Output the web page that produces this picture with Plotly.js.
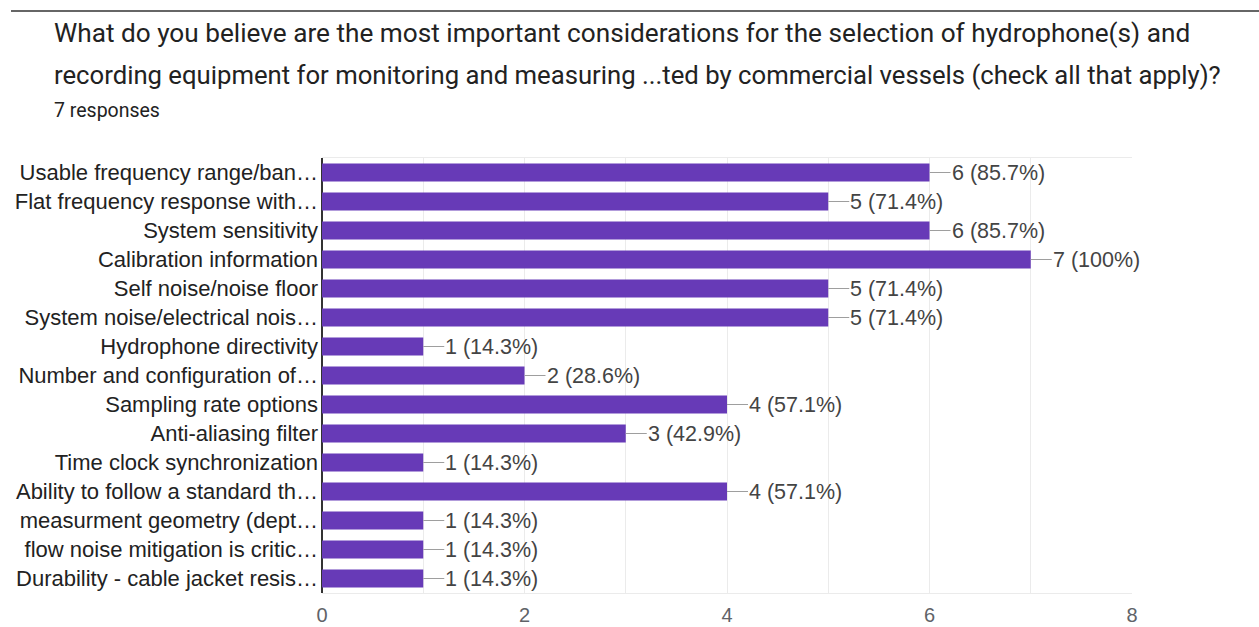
<!DOCTYPE html>
<html><head><meta charset="utf-8">
<script src="https://cdn.plot.ly/plotly-3.0.1.min.js"></script>
<style>html,body{margin:0;padding:0;background:#fff;}#chart{width:1259px;height:627px;}</style>
</head><body><div id="chart"></div>
<script>
const categories = [
  "Usable frequency range/ban…",
  "Flat frequency response with…",
  "System sensitivity",
  "Calibration information",
  "Self noise/noise floor",
  "System noise/electrical nois…",
  "Hydrophone directivity",
  "Number and configuration of…",
  "Sampling rate options",
  "Anti-aliasing filter",
  "Time clock synchronization",
  "Ability to follow a standard th…",
  "measurment geometry (dept…",
  "flow noise mitigation is critic…",
  "Durability - cable jacket resis…"
];
const counts = [6, 5, 6, 7, 5, 5, 1, 2, 4, 3, 1, 4, 1, 1, 1];
const percents = ["85.7%", "71.4%", "85.7%", "100%", "71.4%", "71.4%", "14.3%", "28.6%", "57.1%", "42.9%", "14.3%", "57.1%", "14.3%", "14.3%", "14.3%"];
const xTicks = [0, 2, 4, 6, 8];
const titleLine1 = "What do you believe are the most important considerations for the selection of hydrophone(s) and";
const titleLine2 = "recording equipment for monitoring and measuring ...ted by commercial vessels (check all that apply)?";
const subtitle = "7 responses";

const W = 1259, H = 627;
const L = 322, R = 127, T = 158, B = 34;
const pw = W - L - R, ph = H - T - B;
const px = v => (v - L) / pw;
const py = v => (H - B - v) / ph;

const trace = {
  type: 'bar', orientation: 'h',
  x: counts, y: categories,
  marker: {color: '#673ab7'},
  hoverinfo: 'none'
};

const labelAnns = counts.map((c, i) => ({
  x: c, y: categories[i], xref: 'x', yref: 'y',
  text: c + ' (' + percents[i] + ')',
  showarrow: true, arrowhead: 0, arrowwidth: 1, arrowcolor: '#9e9e9e',
  ax: 21, ay: 0, xanchor: 'left', yanchor: 'middle', borderpad: 0,
  font: {family: 'Liberation Sans, Arial, sans-serif', size: 21.5, color: '#444'}
}));

const textAnns = [
  {text: titleLine1, y: py(33), size: 26.2, color: '#222', fam: 'Roboto'},
  {text: titleLine2, y: py(75), size: 25.7, color: '#222', fam: 'Roboto'},
  {text: subtitle, y: py(110), size: 19.5, color: '#222', fam: 'Roboto'}
].map(a => ({
  text: a.text, xref: 'paper', yref: 'paper', x: px(52), y: a.y,
  xanchor: 'left', yanchor: 'middle', showarrow: false,
  font: {family: a.fam, size: a.size, color: a.color}
}));

const layout = {
  width: W, height: H,
  margin: {l: L, r: R, t: T, b: B, pad: 0},
  paper_bgcolor: '#fff', plot_bgcolor: '#fff',
  showlegend: false,
  bargap: 0.38,
  xaxis: {
    range: [0, 8], tickvals: xTicks, ticktext: xTicks.map(String),
    showgrid: true, gridcolor: '#ebebeb', gridwidth: 1,
    minor: {dtick: 1, showgrid: true, gridcolor: '#ebebeb', gridwidth: 1},
    zeroline: true, zerolinecolor: '#333', zerolinewidth: 1.5,
    showline: true, mirror: true, linecolor: '#ebebeb', linewidth: 1,
    ticks: '', ticklabelstandoff: 4,
    tickfont: {family: 'Liberation Sans, Arial, sans-serif', size: 20, color: '#5f6368'},
    fixedrange: true
  },
  yaxis: {
    autorange: 'reversed', type: 'category',
    showgrid: false, zeroline: false, showline: false, ticks: '',
    ticklabelstandoff: 3,
    tickfont: {family: 'Liberation Sans, Arial, sans-serif', size: 22, color: '#222'},
    fixedrange: true
  },
  annotations: labelAnns.concat(textAnns),
  shapes: [{
    type: 'line', xref: 'paper', yref: 'paper',
    x0: px(11), x1: px(1259), y0: py(11), y1: py(11),
    line: {color: '#333', width: 1.5}
  }]
};

Plotly.newPlot('chart', [trace], layout, {displayModeBar: false, staticPlot: true});
</script>
</body></html>
